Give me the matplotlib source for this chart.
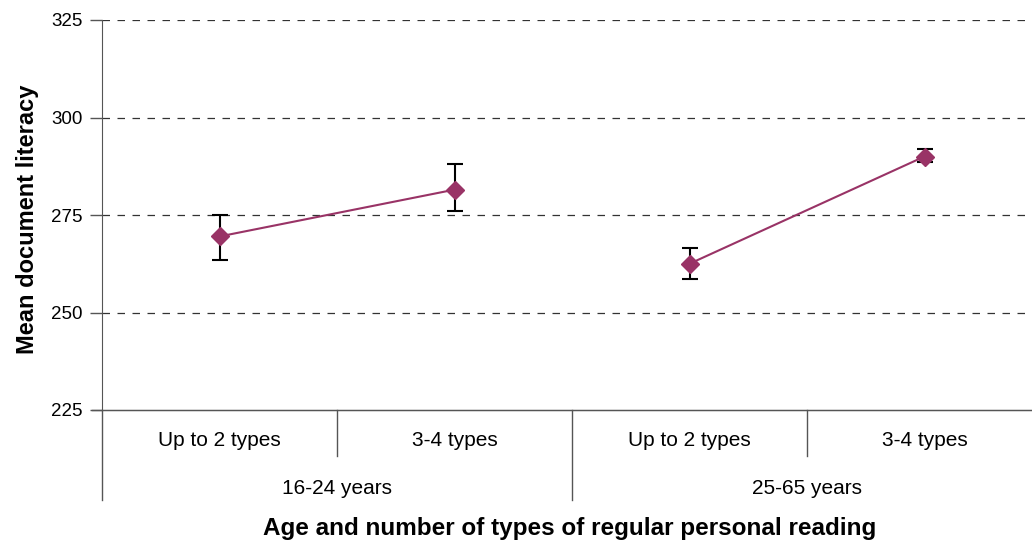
import matplotlib.pyplot as plt

plt.rcParams['font.family'] = ['Liberation Sans', 'DejaVu Sans']

reading = ['Up to 2 types', '3-4 types', 'Up to 2 types', '3-4 types']
ages = ['16-24 years', '25-65 years']
means = [269.5, 281.5, 262.5, 290.0]
err_low = [263.5, 276.0, 258.5, 288.5]
err_high = [275.0, 288.0, 266.5, 292.0]

fig = plt.figure(figsize=(10.32, 5.45), dpi=100)
W, H = 1032, 545
# category axis runs a little past the right edge of the picture
ax = fig.add_axes([102 / W, (H - 410) / H, 940 / W, 390 / H])

xs = [0.5, 1.5, 2.5, 3.5]
col = '#993366'
for g in range(2):
    i = 2 * g
    ax.plot(xs[i:i + 2], means[i:i + 2], color=col, lw=1.5, zorder=3)
yerr = [[m - lo for m, lo in zip(means, err_low)], [hi - m for m, hi in zip(means, err_high)]]
ax.errorbar(xs, means, yerr=yerr, fmt='none', ecolor='black', elinewidth=1.5,
            capsize=6, capthick=1.5, zorder=2)
ax.plot(xs, means, linestyle='none', marker='D', markersize=9, color=col, zorder=4)

ax.set_xlim(0, 4)
ax.set_ylim(225, 325)
ax.set_yticks([225, 250, 275, 300, 325])
ax.tick_params(axis='y', labelsize=13.5, length=9, width=1, color='#555555', pad=5)
ax.set_xticks([])
for y in [250, 275, 300, 325]:
    ax.axhline(y, color='#333333', lw=0.9, ls=(0, (6, 6)), zorder=1)
for s in ['top', 'right']:
    ax.spines[s].set_visible(False)
ax.spines['left'].set_color('#555555')
ax.spines['bottom'].set_color('#555555')

# category axis table
tr = ax.get_xaxis_transform()
ax.plot([-10 / 940 * 4, 4], [0, 0], color='#555555', lw=1, transform=tr, clip_on=False)
for x, d in [(0, 90), (1, 46), (2, 90), (3, 46)]:
    ax.plot([x, x], [0, -d / 390], color='#555555', lw=1, transform=tr, clip_on=False)
for x, lab in zip(xs, reading):
    ax.text(x, -31 / 390, lab, transform=tr, ha='center', va='center', fontsize=15)
for x, lab in zip([1, 3], ages):
    ax.text(x, -78 / 390, lab, transform=tr, ha='center', va='center', fontsize=15)

ax.set_ylabel('Mean document literacy', fontsize=17, fontweight='bold')
ax.yaxis.set_label_coords(-63 / 940, 0.49)
fig.text((235 + 905) / 2 / W, 1 - 529 / H, 'Age and number of types of regular personal reading',
         ha='center', va='center', fontsize=17.5, fontweight='bold')

fig.savefig('out.png', dpi=100)
